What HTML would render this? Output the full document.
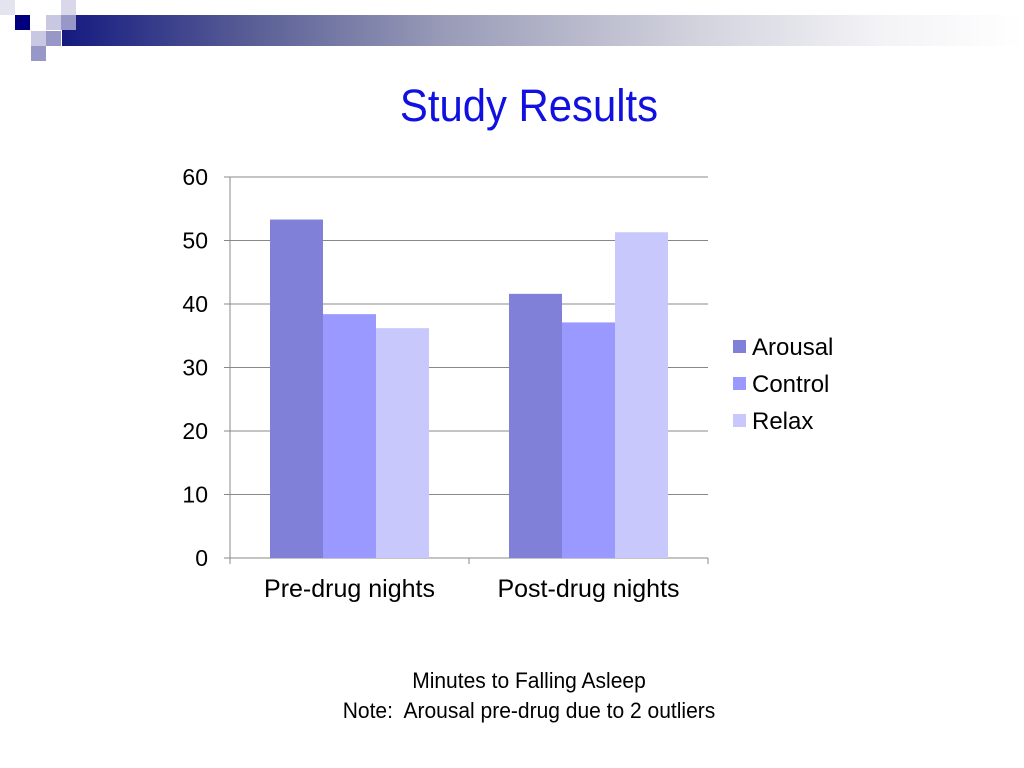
<!DOCTYPE html>
<html><head><meta charset="utf-8"><style>
body{margin:0;width:1024px;height:768px;background:#fff;overflow:hidden;position:relative;font-family:"Liberation Sans",sans-serif}
.sq{position:absolute;width:15px;height:15px}
</style></head><body>
<div>
<div style="position:absolute;left:62px;top:15px;width:962px;height:31px;background:linear-gradient(to right,#151a80 0%,#5a5f96 20%,#9a9cb8 40%,#d0d1dc 65%,#f3f3f6 85%,#fff 100%)"></div>
<div class="sq" style="left:0;top:0;background:#e4e4f0"></div>
<div class="sq" style="left:61px;top:0;background:#d8d8ea"></div>
<div class="sq" style="left:15px;top:15px;background:#00007f"></div>
<div class="sq" style="left:46px;top:15px;background:#c8c8e2"></div>
<div class="sq" style="left:61px;top:15px;background:#9898c8"></div>
<div class="sq" style="left:31px;top:31px;background:#c8c8e2"></div>
<div class="sq" style="left:46px;top:31px;background:#9898c8"></div>
<div class="sq" style="left:31px;top:46px;background:#9898c8"></div>
</div>
<div style="position:absolute;left:0;width:1058px;top:80px;text-align:center;font-size:45px;color:#1010e0;font-family:'Liberation Sans',sans-serif;transform:scaleX(0.93);transform-origin:center">Study Results</div>
<svg id="chart" width="1024" height="768" style="position:absolute;left:0;top:0"></svg>
<div style="position:absolute;left:0;width:1058px;top:666px;text-align:center;font-size:22px;line-height:30px;color:#000;transform:scaleX(0.955);transform-origin:529px 0">Minutes to Falling Asleep<br>Note:&nbsp; Arousal pre-drug due to 2 outliers</div>
<script>
const categories=["Pre-drug nights","Post-drug nights"];
const seriesNames=["Arousal","Control","Relax"];
const arousal=[53.3,41.6];
const control=[38.4,37.1];
const relax=[36.2,51.3];
const ticks=[0,10,20,30,40,50,60];
const colors=["#8080d8","#9999ff","#c8c8fc"];
const svg=document.getElementById('chart');
const NS="http://www.w3.org/2000/svg";
const x0=230,x1=708,yB=558,yT=177,ymax=60;
const y=v=>yB-(v/ymax)*(yB-yT);
function el(t,a){const e=document.createElementNS(NS,t);for(const k in a)e.setAttribute(k,a[k]);svg.appendChild(e);return e;}
ticks.forEach(t=>{
 const l=el('line',{x1:x0-6,x2:x1,y1:y(t),y2:y(t),stroke:'#888','stroke-width':1});
 
 
 const tx=el('text',{x:208,y:y(t)+8,'text-anchor':'end','font-size':23,'font-family':'Liberation Sans'});
 tx.textContent=t;
 
 
});
const ax=el('line',{x1:x0,x2:x0,y1:yT,y2:yB,stroke:'#888'});


const gw=(x1-x0)/categories.length, bw=53;
const series=[arousal,control,relax];
categories.forEach((c,i)=>{
 const cx=x0+gw*(i+0.5);
 series.forEach((s,j)=>{
  const bx=cx-1.5*bw+j*bw;
  const r=el('rect',{x:bx,y:y(s[i]),width:bw,height:yB-y(s[i]),fill:colors[j]});
  
  
 });
 const tx=el('text',{x:cx,y:597,'text-anchor':'middle','font-size':25,'font-family':'Liberation Sans'});
 tx.textContent=c;
 
 
 const tk=el('line',{x1:x0+gw*(i+1),x2:x0+gw*(i+1),y1:yB,y2:yB+6,stroke:'#888'});
 
 
});
const tk0=el('line',{x1:x0,x2:x0,y1:yB,y2:yB+6,stroke:'#888'});


seriesNames.forEach((n,j)=>{
 const ly=347+j*37;
 const r=el('rect',{x:733,y:ly-7,width:13,height:13,fill:colors[j]});
 
 
 const t=el('text',{x:752,y:ly+8,'font-size':24,'font-family':'Liberation Sans'});
 t.textContent=n;
 
 
});
</script>
</body></html>
